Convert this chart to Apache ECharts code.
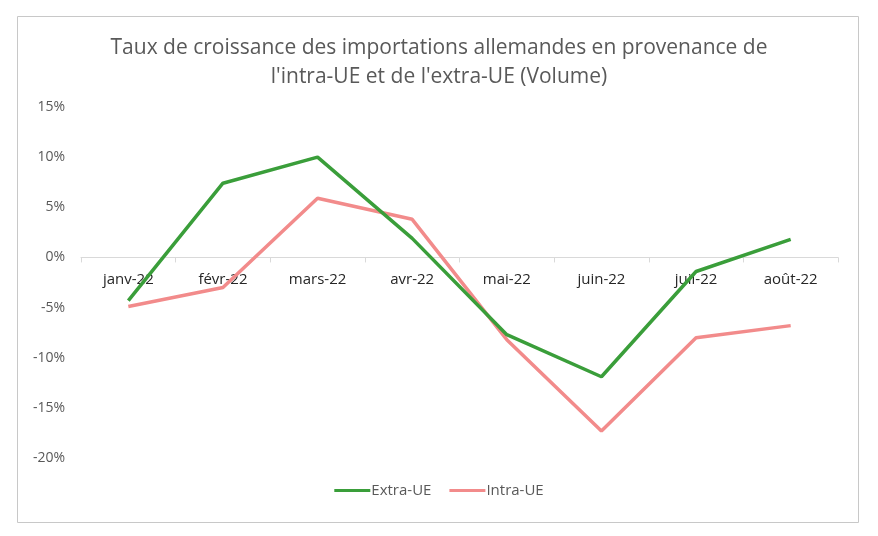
<!DOCTYPE html>
<html>
<head>
<meta charset="utf-8">
<script src="https://cdn.jsdelivr.net/npm/echarts@6/dist/echarts.min.js"></script>
<style>
html,body{margin:0;padding:0;background:#fff;}
#chart{width:878px;height:536px;}
</style>
</head>
<body>
<div id="chart"></div>
<script>
const categories = ['janv-22','févr-22','mars-22','avr-22','mai-22','juin-22','juil-22','août-22'];
const extraUE = [-4.3, 7.4, 10.0, 1.9, -7.7, -11.9, -1.4, 1.8];
const intraUE = [-4.9, -3.0, 5.9, 3.8, -8.2, -17.3, -8.0, -6.8];
const yTicks = {min: -20, max: 15, interval: 5};

const chart = echarts.init(document.getElementById('chart'), null, {renderer: 'canvas'});
const FONT = '"Open Sans", "Noto Sans", sans-serif';
chart.setOption({
  backgroundColor: '#fff',
  animation: false,
  graphic: [{
    type: 'rect',
    shape: {x: 17.5, y: 16.5, width: 841, height: 506},
    style: {fill: 'none', stroke: '#c8c8c8', lineWidth: 1},
    silent: true
  }],
  title: {
    text: "Taux de croissance des importations allemandes en provenance de\nl'intra-UE et de l'extra-UE (Volume)",
    left: 'center',
    top: 29,
    textStyle: {fontFamily: FONT, fontSize: 21, fontWeight: 'normal', color: '#595959', lineHeight: 29}
  },
  legend: {
    bottom: 33,
    left: 'center',
    itemWidth: 36,
    itemHeight: 3,
    itemGap: 18,
    icon: 'rect',
    textStyle: {fontFamily: FONT, fontSize: 15, color: '#595959', padding: [0,0,0,-4]},
    data: ['Extra-UE', 'Intra-UE']
  },
  grid: {left: 81, right: 40, top: 107, bottom: 78, containLabel: false},
  xAxis: {
    type: 'category',
    data: categories,
    boundaryGap: true,
    position: 'bottom',
    axisLine: {onZero: true, lineStyle: {color: '#d9d9d9', width: 1}},
    axisTick: {show: true, length: 5, lineStyle: {color: '#d9d9d9'}},
    axisLabel: {fontFamily: FONT, fontSize: 15, color: '#262626', margin: -186},
    splitLine: {show: false}
  },
  yAxis: {
    type: 'value',
    min: yTicks.min,
    max: yTicks.max,
    interval: yTicks.interval,
    axisLine: {show: false},
    axisTick: {show: false},
    splitLine: {show: false},
    axisLabel: {fontFamily: FONT, fontSize: 14, color: '#595959', margin: 16, formatter: v => v + '%'}
  },
  series: [
    {
      name: 'Extra-UE', type: 'line', data: extraUE,
      symbol: 'none', z: 3,
      lineStyle: {color: '#3a9e3a', width: 3.5},
      itemStyle: {color: '#3a9e3a'}
    },
    {
      name: 'Intra-UE', type: 'line', data: intraUE,
      symbol: 'none', z: 2,
      lineStyle: {color: '#f28b8b', width: 3.5},
      itemStyle: {color: '#f28b8b'}
    }
  ]
});
</script>
</body>
</html>
